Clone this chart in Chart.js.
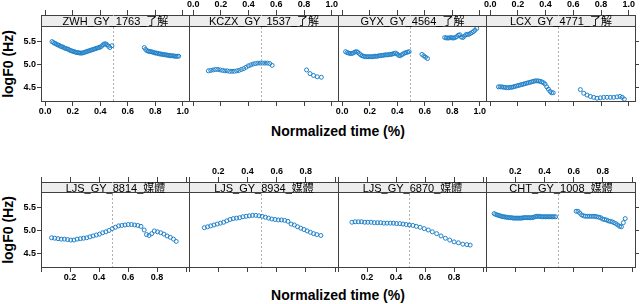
<!DOCTYPE html>
<html>
<head>
<meta charset="utf-8">
<script src="https://cdn.jsdelivr.net/npm/chart.js@4.4.1/dist/chart.umd.min.js"></script>
<style>
body { margin: 0; background: #fff; width: 640px; height: 304px; position: relative; overflow: hidden; font-family: "Liberation Sans", Arial, sans-serif; }
canvas { position: absolute; }
.strip { position: absolute; box-sizing: border-box; background: #ededed; border-bottom: 1px solid #404040; text-align: center; font-size: 11px; font-family: "Liberation Sans", "Noto Sans CJK TC", sans-serif; color: #000; white-space: nowrap; z-index: 2; }
.lab { position: absolute; font-weight: bold; font-size: 14px; white-space: nowrap; color: #000; }
.ylab { transform: translate(-50%, -50%) rotate(-90deg); }
.xlab { transform: translate(-50%, -50%); }
</style>
</head>
<body>
<div class="lab ylab" style="left:8px; top:64px;">logF0 (Hz)</div>
<div class="lab ylab" style="left:8px; top:230px;">logF0 (Hz)</div>
<div class="lab xlab" style="left:338px; top:131px;">Normalized time (%)</div>
<div class="lab xlab" style="left:338px; top:295px;">Normalized time (%)</div>
<script>
// les données
const panelNames = ['ZWH_GY_1763_了解', 'KCZX_GY_1537_了解', 'GYX_GY_4564_了解', 'LCX_GY_4771_了解',
                    'LJS_GY_8814_媒體', 'LJS_GY_8934_媒體', 'LJS_GY_6870_媒體', 'CHT_GY_1008_媒體'];

const zwhTime = [0.05,0.06,0.07,0.08,0.09,0.10,0.11,0.12,0.13,0.14,0.15,0.16,0.17,0.18,0.19,0.20,0.21,0.22,0.23,0.24,0.25,0.26,0.27,0.28,0.29,0.30,0.31,0.32,0.33,0.34,0.35,0.36,0.37,0.38,0.39,0.40,0.41,0.42,0.43,0.44,0.45,0.46,0.47,0.485,
                 0.72,0.73,0.74,0.75,0.76,0.77,0.78,0.79,0.80,0.81,0.82,0.83,0.84,0.85,0.86,0.87,0.88,0.89,0.90,0.91,0.92,0.93,0.94,0.95,0.96,0.97];
const zwhF0 = [5.50,5.48,5.46,5.45,5.43,5.42,5.40,5.39,5.38,5.36,5.35,5.34,5.33,5.31,5.30,5.29,5.28,5.27,5.26,5.26,5.25,5.25,5.25,5.26,5.27,5.28,5.29,5.30,5.31,5.32,5.33,5.34,5.35,5.36,5.37,5.38,5.40,5.43,5.45,5.45,5.43,5.40,5.37,5.41,
               5.37,5.33,5.30,5.29,5.28,5.28,5.27,5.26,5.25,5.25,5.24,5.23,5.23,5.22,5.22,5.21,5.21,5.20,5.20,5.19,5.19,5.19,5.18,5.18,5.18,5.18];

const kczxTime = [0.110,0.127,0.144,0.161,0.178,0.195,0.212,0.229,0.246,0.263,0.280,0.297,0.314,0.331,0.348,0.365,0.382,0.399,0.416,0.433,0.450,0.467,0.484,0.501,0.518,0.535,0.552,0.570,
                  0.818,0.843,0.868,0.895,0.925];
const kczxF0 = [4.86,4.87,4.88,4.89,4.89,4.88,4.87,4.86,4.86,4.85,4.85,4.85,4.86,4.87,4.89,4.91,4.94,4.97,4.99,5.01,5.02,5.03,5.03,5.03,5.03,5.03,5.02,4.98,
                4.88,4.80,4.76,4.73,4.72];

const gyxTime = [0.025,0.036,0.047,0.058,0.069,0.080,0.091,0.102,0.113,0.124,0.135,0.146,0.157,0.168,0.179,0.190,0.201,0.212,0.223,0.234,0.245,0.256,0.267,0.278,0.289,0.300,0.311,0.322,0.333,0.344,0.355,0.366,0.377,0.388,0.399,0.410,0.421,0.432,0.443,0.454,0.465,0.476,0.487,
                 0.580,0.593,0.606,0.620,
                 0.745,0.756,0.767,0.778,0.789,0.800,0.811,0.822,0.833,0.844,0.855,0.866,0.877,0.888,0.899,0.910,0.921,0.932,0.943,0.954,0.965,0.978];
const gyxF0 = [5.28,5.26,5.25,5.24,5.24,5.25,5.27,5.28,5.27,5.24,5.21,5.19,5.18,5.17,5.17,5.17,5.17,5.17,5.17,5.18,5.18,5.18,5.19,5.19,5.20,5.20,5.21,5.21,5.21,5.22,5.22,5.23,5.24,5.25,5.23,5.20,5.19,5.21,5.23,5.25,5.26,5.27,5.28,
               5.22,5.19,5.16,5.13,
               5.59,5.58,5.58,5.58,5.59,5.58,5.58,5.59,5.61,5.64,5.65,5.60,5.59,5.62,5.65,5.66,5.66,5.68,5.70,5.72,5.75,5.79];

const lcxTime = [0.060,0.072,0.084,0.096,0.108,0.120,0.132,0.144,0.156,0.168,0.180,0.192,0.204,0.216,0.228,0.240,0.252,0.264,0.276,0.288,0.300,0.312,0.324,0.336,0.348,0.360,0.372,0.384,0.396,0.408,0.420,0.432,0.443,0.455,
                 0.651,0.675,0.699,0.723,0.747,0.771,0.795,0.819,0.843,0.867,0.891,0.915,0.937,0.953,0.968];
const lcxF0 = [4.51,4.51,4.51,4.50,4.50,4.49,4.49,4.50,4.50,4.51,4.52,4.53,4.54,4.55,4.56,4.57,4.58,4.59,4.60,4.61,4.62,4.63,4.64,4.64,4.64,4.63,4.62,4.60,4.57,4.51,4.46,4.41,4.38,4.38,
               4.45,4.37,4.33,4.30,4.28,4.26,4.27,4.28,4.28,4.28,4.28,4.29,4.30,4.28,4.24];

const ljs8814Time = [0.073,0.095,0.117,0.139,0.161,0.183,0.205,0.227,0.249,0.271,0.293,0.315,0.337,0.359,0.381,0.403,0.425,0.447,0.469,0.491,0.513,0.535,0.557,0.579,0.601,0.623,0.645,0.667,0.689,0.711,0.727,0.745,0.763,0.781,0.803,0.825,0.847,0.869,0.891,0.913,0.932];
const ljs8814F0 = [4.84,4.83,4.82,4.81,4.81,4.80,4.79,4.79,4.81,4.82,4.83,4.84,4.86,4.88,4.90,4.92,4.95,4.97,5.00,5.04,5.07,5.10,5.11,5.12,5.13,5.13,5.12,5.11,5.09,5.01,4.91,4.89,4.93,4.99,4.97,4.95,4.92,4.88,4.85,4.81,4.76];

const ljs8934Time = [0.105,0.127,0.149,0.171,0.193,0.215,0.237,0.259,0.281,0.303,0.325,0.347,0.369,0.391,0.413,0.435,0.457,0.479,0.501,0.523,0.545,0.567,0.589,0.611,0.633,0.655,0.677,0.699,0.721,0.743,0.765,0.787,0.809,0.831,0.853,0.875,0.903];
const ljs8934F0 = [5.06,5.08,5.10,5.12,5.14,5.16,5.18,5.21,5.24,5.26,5.27,5.28,5.30,5.31,5.32,5.33,5.33,5.32,5.31,5.29,5.27,5.25,5.24,5.23,5.23,5.22,5.20,5.14,5.12,5.08,5.05,5.02,4.99,4.96,4.93,4.91,4.89];

const ljs6870Time = [0.096,0.118,0.140,0.162,0.184,0.206,0.228,0.250,0.272,0.294,0.316,0.338,0.360,0.382,0.404,0.426,0.448,0.470,0.492,0.516,0.540,0.566,0.594,0.622,0.650,0.680,0.710,0.740,0.770,0.800,0.830,0.860,0.888,0.911];
const ljs6870F0 = [5.18,5.19,5.19,5.19,5.18,5.18,5.18,5.17,5.17,5.17,5.16,5.16,5.16,5.16,5.15,5.15,5.14,5.13,5.12,5.11,5.09,5.07,5.04,5.01,4.97,4.93,4.88,4.83,4.79,4.75,4.73,4.70,4.69,4.68];

const chtTime = [0.056,0.066,0.076,0.086,0.096,0.106,0.116,0.126,0.136,0.146,0.156,0.166,0.176,0.186,0.196,0.206,0.216,0.226,0.236,0.246,0.256,0.266,0.276,0.286,0.296,0.306,0.316,0.326,0.336,0.346,0.356,0.366,0.376,0.386,0.396,0.406,0.416,0.426,0.436,0.446,0.456,0.466,0.477,
                 0.617,0.630,0.642,0.655,0.668,0.681,0.694,0.707,0.720,0.733,0.746,0.759,0.772,0.785,0.798,0.811,0.824,0.837,0.850,0.863,0.876,0.889,0.902,0.915,0.927,0.940,0.953];
const chtF0 = [5.37,5.35,5.34,5.33,5.32,5.31,5.30,5.30,5.29,5.29,5.28,5.28,5.28,5.27,5.27,5.27,5.27,5.27,5.27,5.27,5.28,5.28,5.28,5.28,5.28,5.28,5.28,5.29,5.30,5.31,5.31,5.31,5.30,5.30,5.30,5.30,5.30,5.30,5.30,5.30,5.30,5.30,5.30,
               5.42,5.42,5.38,5.34,5.32,5.31,5.31,5.31,5.31,5.31,5.31,5.30,5.29,5.28,5.25,5.24,5.23,5.21,5.20,5.19,5.17,5.15,5.12,5.09,5.08,5.17,5.26];

const timeTicks = [0, 0.2, 0.4, 0.6, 0.8, 1.0];
const bottomRowLabels = [0.2, 0.4, 0.6, 0.8];
const f0Ticks = [4.5, 5.0, 5.5];
const boundary = 0.49; // ligne pointillée

const series = [
  [zwhTime, zwhF0], [kczxTime, kczxF0], [gyxTime, gyxF0], [lcxTime, lcxF0],
  [ljs8814Time, ljs8814F0], [ljs8934Time, ljs8934F0], [ljs6870Time, ljs6870F0], [chtTime, chtF0]
];

// mise en page
const panelX = [41, 189, 338, 486];
const panelW = [148, 149, 148, 149];
const margin = 41;
const topAxisH = 15, plotH = 74, bottomAxisH = 22;
const yLow = 4.2, yHigh = 5.82;
const rows = [
  { top: 0,   stripH: 12, xMin: -0.03, xMax: 1.045, labels: timeTicks },
  { top: 167, stripH: 11, xMin: 0,     xMax: 1.02,  labels: bottomRowLabels }
];
const axisColor = '#404040';
const pointColor = '#1f80c8';
const tickFont = { family: '"Liberation Sans", Arial, sans-serif', size: 9, weight: 'bold' };

const boundaryLine = {
  id: 'boundaryLine',
  beforeDatasetsDraw(chart) {
    const ctx = chart.ctx;
    const x = Math.round(chart.scales.x.getPixelForValue(boundary)) + 0.5;
    ctx.save();
    ctx.strokeStyle = '#b0b0b0';
    ctx.lineWidth = 1;
    ctx.setLineDash([2, 2]);
    ctx.beginPath();
    ctx.moveTo(x, chart.chartArea.top);
    ctx.lineTo(x, chart.chartArea.bottom);
    ctx.stroke();
    ctx.restore();
  }
};

function makePanel(i) {
  const row = rows[Math.floor(i / 4)];
  const col = i % 4;
  const [time, f0] = series[i];
  const labelsBelow = col % 2 === 0;
  const yMax = yHigh + row.stripH * (yHigh - yLow) / plotH;

  const cv = document.createElement('canvas');
  cv.width = panelW[col] + 2 * margin;
  cv.height = topAxisH + row.stripH + plotH + bottomAxisH;
  cv.style.left = (panelX[col] - margin) + 'px';
  cv.style.top = row.top + 'px';
  document.body.appendChild(cv);

  const strip = document.createElement('div');
  strip.className = 'strip';
  strip.textContent = panelNames[i];
  strip.style.left = (panelX[col] + 1) + 'px';
  strip.style.top = (row.top + topAxisH + 1) + 'px';
  strip.style.width = (panelW[col] - 1) + 'px';
  strip.style.height = (row.stripH - 1) + 'px';
  strip.style.lineHeight = (row.stripH - 1) + 'px';
  document.body.appendChild(strip);

  const xLabel = v => row.labels.some(l => Math.abs(l - v) < 1e-6) ? v.toFixed(1) : '';
  const xAxis = (pos, showLabels, h) => ({
    type: 'linear', position: pos, min: row.xMin, max: row.xMax,
    afterBuildTicks: s => { s.ticks = timeTicks.map(v => ({ value: v })); },
    afterFit: s => { s.height = h; },
    grid: { drawOnChartArea: false, tickLength: 5, color: axisColor },
    border: { color: axisColor },
    ticks: { display: showLabels, padding: 0, font: tickFont, color: '#000', maxRotation: 0, autoSkip: false, callback: xLabel }
  });
  const yAxis = (pos, withTicks, withLabels) => ({
    type: 'linear', position: pos, min: yLow, max: yMax,
    afterBuildTicks: s => { s.ticks = f0Ticks.map(v => ({ value: v })); },
    afterFit: s => { s.width = margin; },
    grid: { drawOnChartArea: false, drawTicks: withTicks, tickLength: 4, color: axisColor },
    border: { color: axisColor },
    ticks: { display: withLabels, padding: 1, font: tickFont, color: '#000', callback: v => v.toFixed(1) }
  });

  new Chart(cv.getContext('2d'), {
    type: 'scatter',
    data: {
      datasets: [{
        data: time.map((t, k) => ({ x: t, y: f0[k] })),
        borderColor: pointColor,
        backgroundColor: 'rgba(0,0,0,0)',
        pointRadius: 2,
        pointBorderWidth: 1,
        pointHoverRadius: 2
      }]
    },
    options: {
      responsive: false,
      animation: false,
      devicePixelRatio: 1,
      events: [],
      layout: { padding: 0 },
      plugins: { legend: { display: false }, tooltip: { enabled: false } },
      scales: {
        x: xAxis('bottom', labelsBelow, bottomAxisH),
        x2: xAxis('top', !labelsBelow, topAxisH),
        y: yAxis('left', col === 0, col === 0),
        y2: yAxis('right', col === 3, false)
      }
    },
    plugins: [boundaryLine]
  });
}

for (let i = 0; i < 8; i++) makePanel(i);
</script>
</body>
</html>
